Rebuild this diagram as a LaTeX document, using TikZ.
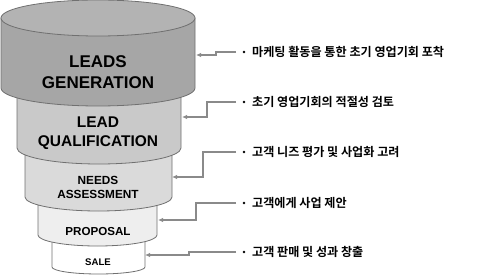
\documentclass[tikz,border=0pt]{standalone}
\usepackage{fontspec}
\setmainfont{Liberation Sans}
\newfontfamily\kr{Noto Sans CJK KR}[BoldFont={Noto Sans CJK KR Bold}]
\usetikzlibrary{arrows.meta}
\definecolor{lv1}{HTML}{A6A6A6}
\definecolor{lv1top}{HTML}{B3B3B3}
\definecolor{lv2}{HTML}{C9C9C9}
\definecolor{lv3}{HTML}{DADADA}
\definecolor{lv4}{HTML}{EEEEEE}
\definecolor{lv5}{HTML}{FFFFFF}
\definecolor{edge}{HTML}{707070}
\definecolor{conncol}{HTML}{8A8A8A}
\tikzset{
  level/.style={draw=edge,line width=0.8pt},
  stage/.style={align=center,inner sep=0pt,text=black},
  conn/.style={draw=conncol,line width=1.1pt,-{Latex[length=5pt,width=4.5pt]}},
  dot/.style={circle,fill=black,inner sep=0pt,minimum size=2.6pt},
  desc/.style={anchor=west,inner sep=0pt,font=\kr\bfseries\fontsize{12.1}{14}\selectfont}
}
\begin{document}
\begin{tikzpicture}[x=1pt,y=1pt]
\useasboundingbox (0,0) rectangle (478,-275);
% level 5 (SALE)
\draw[level,fill=lv5] (52,-240) -- (52,-267) arc[start angle=180,end angle=360,x radius=46.5,y radius=7] -- (145,-240) -- cycle;
% level 4 (PROPOSAL)
\draw[level,fill=lv4] (38,-205) -- (38,-235) arc[start angle=180,end angle=360,x radius=59.5,y radius=11] -- (157,-205) -- cycle;
% level 3 (NEEDS ASSESSMENT)
\draw[level,fill=lv3] (25,-155) -- (25,-197) arc[start angle=180,end angle=360,x radius=73.5,y radius=14] -- (172,-155) -- cycle;
% level 2 (LEAD QUALIFICATION)
\draw[level,fill=lv2] (17,-95) -- (17,-148) arc[start angle=180,end angle=360,x radius=82,y radius=16] -- (181,-95) -- cycle;
% level 1 (LEADS GENERATION)
\draw[level,fill=lv1] (1,-18) -- (1,-88) arc[start angle=180,end angle=360,x radius=97,y radius=18] -- (195,-18) -- cycle;
\draw[level,fill=lv1top] (98,-18) ellipse[x radius=97,y radius=18];

% stage labels
\node[stage,font=\bfseries\fontsize{17}{21.5}\selectfont] (n1) at (98,-72) {LEADS\\GENERATION};
\node[stage,font=\bfseries\fontsize{15.5}{19}\selectfont] (n2) at (98,-133.5) {LEAD\\QUALIFICATION};
\node[stage,font=\bfseries\fontsize{11.8}{14}\selectfont] (n3) at (98,-187) {NEEDS\\ASSESSMENT};
\node[stage,font=\bfseries\fontsize{11.6}{14}\selectfont] (n4) at (98,-231.5) {PROPOSAL};
\node[stage,font=\bfseries\fontsize{9.6}{12}\selectfont] (n5) at (98,-262.5) {SALE};

% bullets and descriptions
\node[dot] (d1) at (244,-52) {};
\node[dot] (d2) at (244,-102) {};
\node[dot] (d3) at (244,-152) {};
\node[dot] (d4) at (244,-203) {};
\node[dot] (d5) at (244,-252) {};
\node[desc] (k1) at (252,-52) {마케팅 활동을 통한 초기 영업기회 포착};
\node[desc] (k2) at (252,-102) {초기 영업기회의 적절성 검토};
\node[desc] (k3) at (252,-152) {고객 니즈 평가 및 사업화 고려};
\node[desc] (k4) at (252,-203) {고객에게 사업 제안};
\node[desc] (k5) at (252,-252) {고객 판매 및 성과 창출};

% connector endpoints
\coordinate (s1) at (236,-52);
\coordinate (s2) at (236,-102);
\coordinate (s3) at (236,-152);
\coordinate (s4) at (236,-203);
\coordinate (s5) at (236,-252);
\coordinate (t1) at (196,-55);
\coordinate (t2) at (182,-117);
\coordinate (t3) at (172,-177);
\coordinate (t4) at (158,-220);
\coordinate (t5) at (145,-255);

\draw[conn] (s1) -- ++(-20,0) |- (t1);
\draw[conn] (s2) -- ++(-29,0) |- (t2);
\draw[conn] (s3) -- ++(-33,0) |- (t3);
\draw[conn] (s4) -- ++(-40,0) |- (t4);
\draw[conn] (s5) -- ++(-47,0) |- (t5);
\end{tikzpicture}
\end{document}
